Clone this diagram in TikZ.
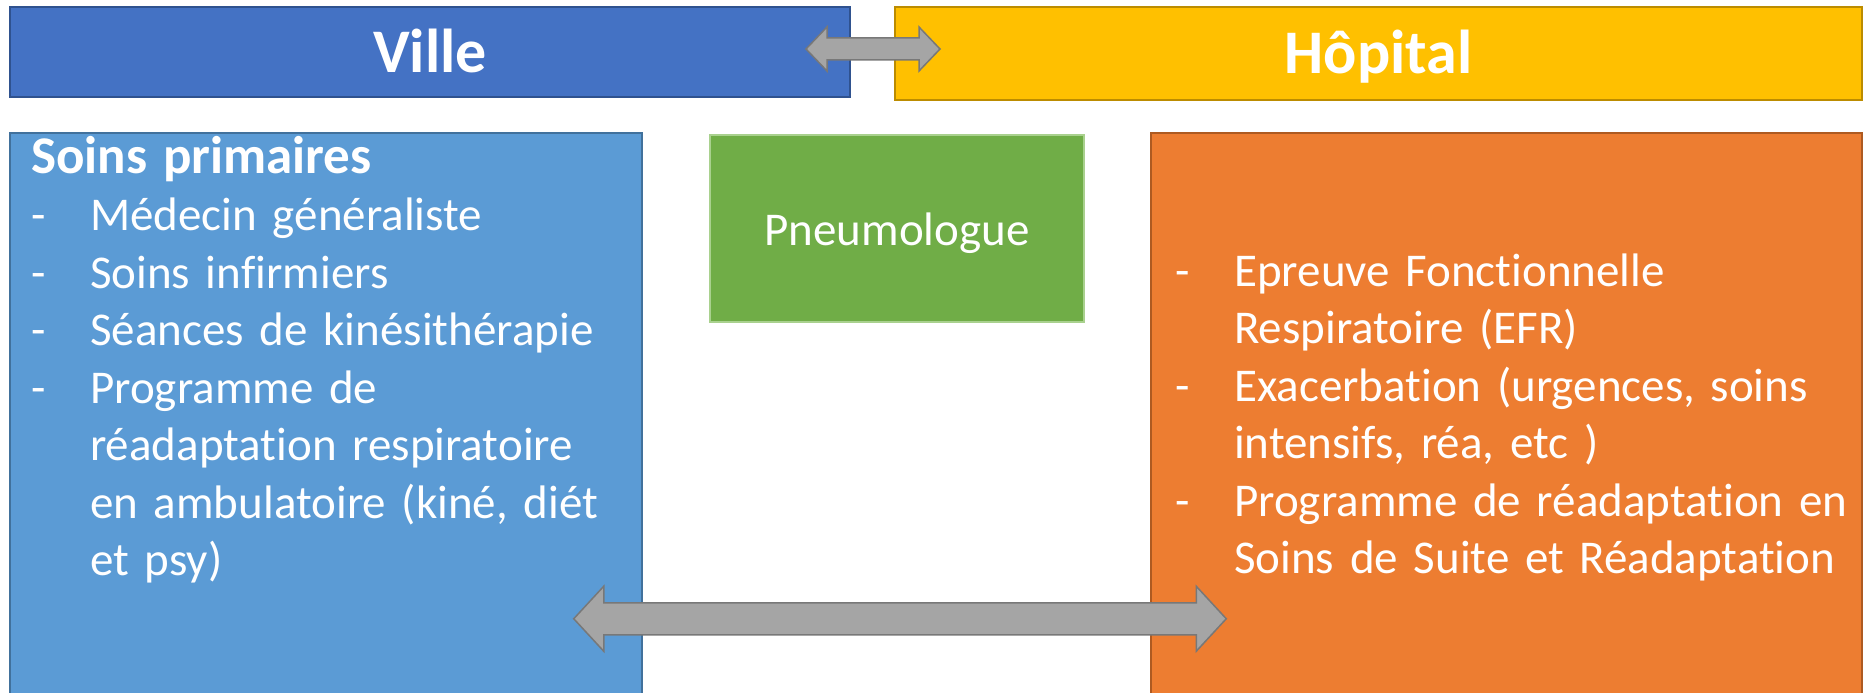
\documentclass[tikz,border=0pt]{standalone}
\usepackage{fontspec}
\setmainfont{Carlito}[Ligatures=NoCommon]
\usepackage{xcolor}
\usepackage{tikz}
\usetikzlibrary{calc}
\definecolor{villefond}{HTML}{4472C4}
\definecolor{villetrait}{HTML}{2F528F}
\definecolor{hopfond}{HTML}{FFC000}
\definecolor{hoptrait}{HTML}{BC8C00}
\definecolor{soinsfond}{HTML}{5B9BD5}
\definecolor{soinstrait}{HTML}{41719C}
\definecolor{pneumofond}{HTML}{70AD47}
\definecolor{pneumotrait}{HTML}{A9D18E}
\definecolor{hospfond}{HTML}{ED7D31}
\definecolor{hosptrait}{HTML}{AE5A21}
\definecolor{flechefond}{HTML}{A5A5A5}
\definecolor{flechetrait}{HTML}{787878}
\newcommand*{\puce}[1]{\hangindent=59pt\hangafter=1\noindent\makebox[59pt][l]{-}#1\par}
\newcommand*{\flechedouble}[5]{%
\draw[blockarrow] let \p1=(#1), \p2=(#2) in (\x1,\y1) -- ++(#5,#4) -- ++(0pt,{#3-#4}) -- ({\x2-#5},{\y1+#3}) -- ++(0pt,{#4-#3}) -- (\x2,\y1) -- ++({-#5},{-#4}) -- ++(0pt,{#4-#3}) -- ({\x1+#5},{\y1-#3}) -- ++(0pt,{#3-#4}) -- cycle;}
\tikzstyle{titrebox}=[shape=rectangle, line width=2pt, inner sep=0pt, text=white, font=\fontsize{62}{70}\selectfont\bfseries, text height=49pt, text depth=8pt]
\tikzstyle{groupbox}=[shape=rectangle, line width=1.5pt, inner sep=0pt]
\tikzstyle{listtext}=[text=white, inner sep=0pt, align=left, font=\fontsize{47}{57.5}\selectfont]
\tikzstyle{blockarrow}=[fill=flechefond, draw=flechetrait, line width=1.5pt, line join=miter]

\begin{document}
\begin{tikzpicture}[x=1pt, y=-1pt]
\useasboundingbox (0,0) rectangle (1864,693);
\node [titrebox, fill=villefond, draw=villetrait, minimum width=840, minimum height=90] (ville) at (430,52) {Ville};
\node [titrebox, fill=hopfond, draw=hoptrait, minimum width=967, minimum height=93] (hopital) at (1378.5,53.5) {Hôpital};
\node [groupbox, fill=soinsfond, draw=soinstrait, minimum width=632, minimum height=566] (soins) at (326,416) {};
\node [groupbox, fill=pneumofond, draw=pneumotrait, minimum width=374, minimum height=187, text=white, font=\fontsize{47}{57.5}\selectfont, text height=40pt, text depth=7pt] (pneumo) at (897,228.5) {Pneumologue};
\node [groupbox, fill=hospfond, draw=hosptrait, minimum width=711, minimum height=566] (hosp) at (1506.5,416) {};

\node [listtext, text width=640, anchor=base west] (soinsliste) at (31,173) {{\fontsize{53}{57.5}\selectfont\bfseries Soins primaires}\par
\puce{Médecin généraliste}
\puce{Soins infirmiers}
\puce{Séances de kinésithérapie}
\puce{Programme de\newline réadaptation respiratoire\newline en ambulatoire (kiné, diét\newline et psy)}};
\node [listtext, text width=680, anchor=base west] (hospliste) at (1175,286) {\puce{Epreuve Fonctionnelle\newline Respiratoire (EFR)}
\puce{Exacerbation (urgences, soins\newline intensifs, réa, etc )}
\puce{Programme de réadaptation en\newline Soins de Suite et Réadaptation}};

\flechedouble{$(ville.east)+(-45,-3)$}{$(hopital.west)+(46,-3)$}{11pt}{22pt}{21pt}
\flechedouble{$(soins.south east)+(-69,-81)$}{$(hosp.south west)+(76,-81)$}{16pt}{32.5pt}{30pt}
\end{tikzpicture}
\end{document}
